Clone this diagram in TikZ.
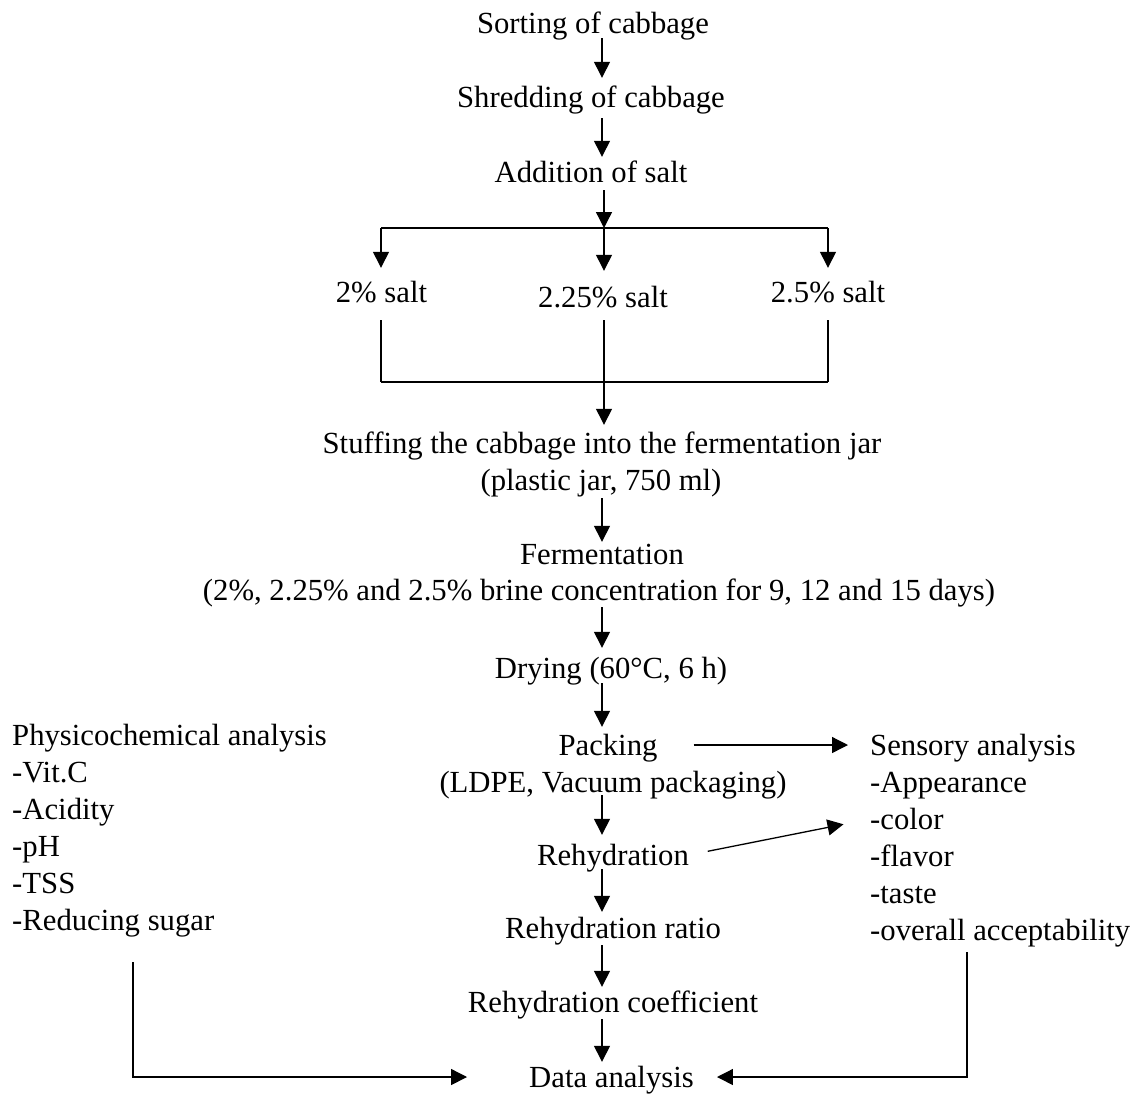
\documentclass[tikz,border=0pt]{standalone}
\usepackage{fontspec}
\setmainfont{Liberation Serif}
\usetikzlibrary{arrows.meta}
\newcommand{\fsz}{\fontsize{30.7pt}{37pt}\selectfont}
\begin{document}
\begin{tikzpicture}[x=1pt,y=-1pt,
  txt/.style={inner sep=0pt,text height=20pt,text depth=0pt,anchor=base,font=\fsz},
  lt/.style={txt,anchor=base west},
  arr/.style={-{Triangle[width=16pt,length=16pt]},line width=1.3pt},
  ln/.style={line width=1.3pt},
  g/.style 2 args={shorten <=#1pt,shorten >=#2pt}]
\useasboundingbox (0,0) rectangle (1137,1093);
% main column
\node[txt] (sort)  at (593,33)  {Sorting of cabbage};
\node[txt] (shred) at (591,107) {Shredding of cabbage};
\node[txt] (add)   at (591,182) {Addition of salt};
\node[txt] (s1)    at (381.5,302) {2\% salt};
\node[txt] (s2)    at (603,307) {2.25\% salt};
\node[txt] (s3)    at (828,302) {2.5\% salt};
\node[txt] (stuff) at (602,453) {Stuffing the cabbage into the fermentation jar};
\node[txt] (jar)   at (601,490) {(plastic jar, 750 ml)};
\node[txt] (ferm)  at (602,564) {Fermentation};
\node[txt] (brine) at (599,600) {(2\%, 2.25\% and 2.5\% brine concentration for 9, 12 and 15 days)};
\node[txt] (dry)   at (611,678) {Drying (60°C, 6 h)};
\node[txt] (pack)  at (608,755) {Packing};
\node[txt] (ldpe)  at (613,792) {(LDPE, Vacuum packaging)};
\node[txt] (rehyd) at (613,865) {Rehydration};
\node[txt] (ratio) at (613,938) {Rehydration ratio};
\node[txt] (coef)  at (613,1012) {Rehydration coefficient};
\node[txt] (data)  at (611.5,1087) {Data analysis};
% left block
\node[lt] (phys0) at (12,745) {Physicochemical analysis};
\node[lt] (phys1) at (12,782) {-Vit.C};
\node[lt] (phys2) at (12,819) {-Acidity};
\node[lt] (phys3) at (12,856) {-pH};
\node[lt] (phys4) at (12,893) {-TSS};
\node[lt] (phys5) at (12,930) {-Reducing sugar};
% right block
\node[lt] (sens0) at (870,755) {Sensory analysis};
\node[lt] (sens1) at (870,792) {-Appearance};
\node[lt] (sens2) at (870,829) {-color};
\node[lt] (sens3) at (870,866) {-flavor};
\node[lt] (sens4) at (870,903) {-taste};
\node[lt] (sens5) at (870,940) {-overall acceptability};
% coordinates
\coordinate (sp) at (602,0);
\coordinate (split) at (604,228);
\coordinate (bl) at (381,228);
\coordinate (br) at (828,228);
\coordinate (jl) at (381,382);
\coordinate (jr) at (828,382);
\coordinate (lc) at (133,1077);
\coordinate (rc) at (967,1077);
% connectors
\draw[arr,g={5}{9}] (sort.south -| sp) -- (shred.north -| sp);
\draw[arr,g={11}{5}] (shred.south -| sp) -- (add.north -| sp);
\draw[arr,shorten <=8pt] (add.south -| split) -- (split);
\draw[ln] (bl) -- (br);
\draw[arr,shorten >=14pt] (bl) -- (s1.north -| bl);
\draw[arr,shorten >=16pt] (split) -- (s2.north -| split);
\draw[arr,shorten >=14pt] (br) -- (s3.north -| br);
\draw[ln,shorten <=18pt] (s1.south -| jl) -- (jl);
\draw[ln,shorten <=18pt] (s3.south -| jr) -- (jr);
\draw[ln] (jl) -- (jr);
\draw[arr,g={13}{8}] (s2.south -| split) -- (stuff.north -| split);
\draw[arr,g={8}{2}] (jar.south -| sp) -- (ferm.north -| sp);
\draw[arr,g={7}{10}] (brine.south -| sp) -- (dry.north -| sp);
\draw[arr,g={5}{8}] (dry.south -| sp) -- (pack.north -| sp);
\draw[arr,g={3}{10}] (ldpe.south -| sp) -- (rehyd.north -| sp);
\draw[arr,g={4}{6}] (rehyd.south -| sp) -- (ratio.north -| sp);
\draw[arr,g={7}{5}] (ratio.south -| sp) -- (coef.north -| sp);
\draw[arr,g={7}{5}] (coef.south -| sp) -- (data.north -| sp);
\draw[arr,g={36}{22}] (pack.east) -- (pack.east -| sens0.west);
\draw[arr,g={19}{27}] (rehyd.east) -- (sens2.west);
\draw[arr,g={32}{62}] (phys5.south -| lc) -- (lc) -- (data.west);
\draw[arr,g={12}{23}] (sens5.south -| rc) -- (rc) -- (data.east);
\end{tikzpicture}
\end{document}
